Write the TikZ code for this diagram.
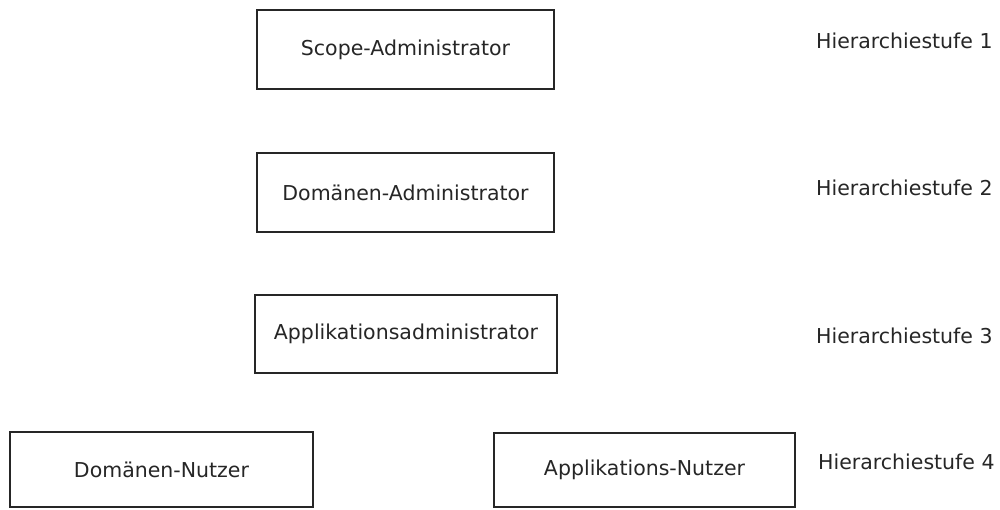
\documentclass[tikz,border=0pt]{standalone}
\usepackage{fontspec}
\setmainfont{DejaVu Sans}
\begin{document}
\begin{tikzpicture}[x=1pt,y=-1pt,
  every node/.style={font=\fontsize{20.5}{24}\selectfont, text=black!85},
  rolebox/.style={draw=black!85, line width=2.8pt, fill=white, inner sep=0pt},
  levellabel/.style={anchor=base west, inner sep=0pt}]
\useasboundingbox (0,0) rectangle (1000,509);
% Rollen
\node[rolebox, minimum width=297pt, minimum height=79pt] (scope) at (405.5,49.5) {Scope-Administrator};
\node[rolebox, minimum width=297pt, minimum height=79pt] (domadm) at (405.5,192.5) {Domänen-Administrator};
\node[rolebox, minimum width=302pt, minimum height=78pt] (appadm) at (406,334) {Applikationsadministrator};
\node[rolebox, minimum width=303pt, minimum height=75pt] (domuser) at (161.5,469.5) {Domänen-Nutzer};
\node[rolebox, minimum width=301pt, minimum height=74pt] (appuser) at (644.5,470) {Applikations-Nutzer};
% Hierarchiestufen
\node[levellabel] (l1) at (816,48) {Hierarchiestufe 1};
\node[levellabel] (l2) at (816,195) {Hierarchiestufe 2};
\node[levellabel] (l3) at (816,343) {Hierarchiestufe 3};
\node[levellabel] (l4) at (818,469) {Hierarchiestufe 4};
\end{tikzpicture}
\end{document}
